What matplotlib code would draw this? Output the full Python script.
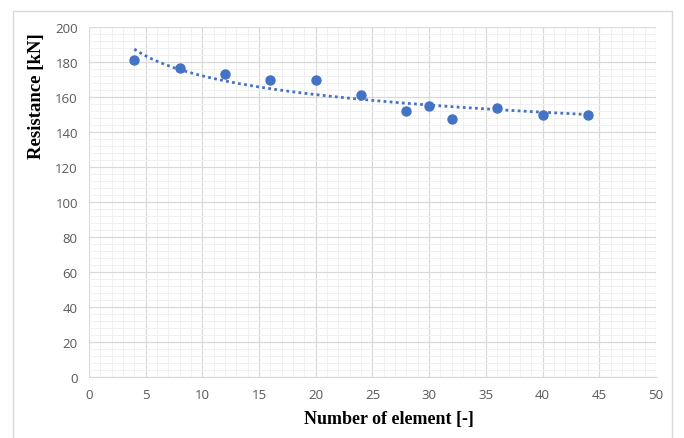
import numpy as np
import matplotlib.pyplot as plt
from matplotlib.patches import Rectangle
from matplotlib.ticker import MultipleLocator

# data
elements = [4, 8, 12, 16, 20, 24, 28, 30, 32, 36, 40, 44]
resistance = [181, 176.5, 173, 169.5, 169.5, 161, 152, 155, 147.5, 154, 150, 149.5]

# power trendline (like Excel's)
b, ln_a = np.polyfit(np.log(elements), np.log(resistance), 1)
xf = np.linspace(min(elements), max(elements), 200)
yf = np.exp(ln_a) * xf ** b

blue = '#4472C4'
fig = plt.figure(figsize=(6.84, 4.39), dpi=100)
fig.patches.append(Rectangle((13 / 684, -0.01), 659 / 684, 1 - 12 / 439 + 0.01,
                             transform=fig.transFigure, fill=False,
                             edgecolor='#d9d9d9', linewidth=1))
ax = fig.add_axes([0.130, 0.139, 0.829, 0.797])

ax.plot(xf, yf, linestyle=(0, (1, 1.2)), color=blue, linewidth=2, zorder=3)
ax.scatter(elements, resistance, s=42, color=blue, zorder=4)

ax.set_xlim(0, 50)
ax.set_ylim(0, 200)
ax.xaxis.set_major_locator(MultipleLocator(5))
ax.xaxis.set_minor_locator(MultipleLocator(1))
ax.yaxis.set_major_locator(MultipleLocator(20))
ax.yaxis.set_minor_locator(MultipleLocator(4))
ax.grid(which='major', color='#d9d9d9', linewidth=0.9)
ax.grid(which='minor', color='#f0f0f0', linewidth=0.7)
ax.set_axisbelow(True)
for side in ['top', 'right', 'left']:
    ax.spines[side].set_visible(False)
ax.spines['bottom'].set_color('#d9d9d9')
ax.tick_params(which='both', length=0, colors='#595959', labelsize=9.5, pad=8)
for lbl in ax.get_xticklabels() + ax.get_yticklabels():
    lbl.set_fontfamily('Open Sans')

fig.text(389 / 684, 1 - 420 / 439, 'Number of element [-]', fontsize=13,
         fontweight='bold', family='Liberation Serif', ha='center', va='center')
fig.text(37 / 684, 1 - 96 / 439, 'Resistance [kN]', fontsize=13.5, rotation=90,
         fontweight='bold', family='Liberation Serif', ha='center', va='center')

plt.savefig('out.png')
